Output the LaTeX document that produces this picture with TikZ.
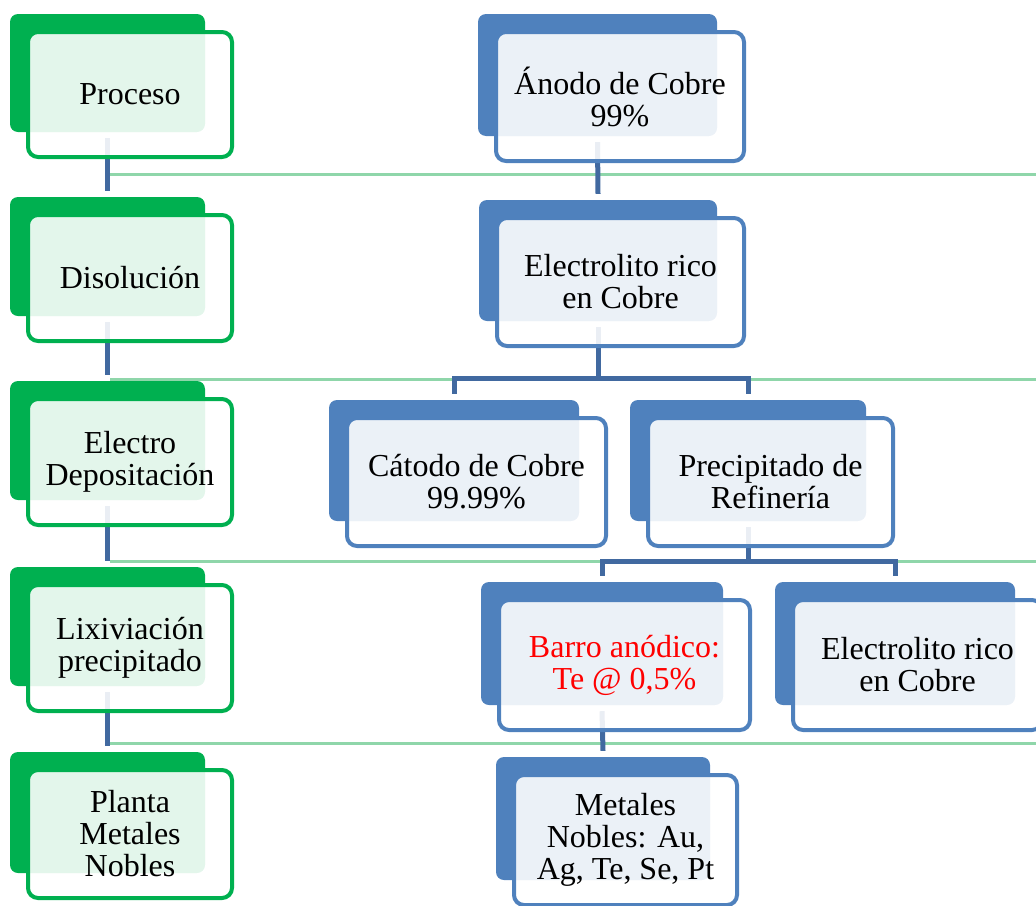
\documentclass[tikz,border=0pt]{standalone}
\usepackage{fontspec}
\setmainfont{Liberation Serif}
\definecolor{gD}{RGB}{0,176,80}
\definecolor{bD}{RGB}{79,129,189}
\definecolor{conn}{RGB}{65,105,160}
\definecolor{mint}{RGB}{143,214,170}
\pgfdeclarelayer{bg}
\pgfsetlayers{bg,main}
\tikzset{
  backbox/.style={rectangle,rounded corners=8pt,inner sep=0pt},
  frontbox/.style={rectangle,rounded corners=10pt,line width=4pt,fill=white,fill opacity=0.89,text opacity=1,
    inner sep=0pt,align=center,font=\fontsize{32}{32}\selectfont},
  conline/.style={draw=conn,line width=5pt},
  sepline/.style={draw=mint,line width=3pt}
}
\newcommand\unitbox[8][]{%
  \pgfmathsetmacro\uw{#5-#3}\pgfmathsetmacro\uh{#6-#4}%
  \pgfmathsetmacro\ucx{(#3+#5)/2}\pgfmathsetmacro\ucy{(#4+#6)/2}%
  \pgfmathsetmacro\fw{\uw+9}\pgfmathsetmacro\fh{\uh+7}%
  \pgfmathsetmacro\fcx{\ucx+22.5}\pgfmathsetmacro\fcy{\ucy+21.5}%
  \node[backbox,fill=#7,minimum width=\uw pt,minimum height=\uh pt] (#2) at (\ucx,\ucy) {};
  \node[frontbox,draw=#7,minimum width=\fw pt,minimum height=\fh pt,#1] (#2f) at (\fcx,\fcy) {#8};
}
\begin{document}
\begin{tikzpicture}[x=1pt,y=-1pt]
\useasboundingbox (0,0) rectangle (1036,905);
% left column
\unitbox{L1}{10}{14}{205}{132}{gD}{Proceso}
\unitbox{L2}{10}{197}{205}{316}{gD}{Disolución}
\unitbox{L3}{10}{381}{205}{500}{gD}{Electro\\Depositación}
\unitbox{L4}{10}{567}{205}{686}{gD}{Lixiviación\\precipitado}
\unitbox{L5}{10}{752}{205}{873}{gD}{Planta\\Metales\\Nobles}
% tree
\unitbox{A}{478}{14}{717}{136}{bD}{Ánodo de Cobre\\99\%}
\unitbox{B}{479}{200}{717}{321}{bD}{Electrolito rico\\en Cobre}
\unitbox{C}{329}{400}{579}{521}{bD}{Cátodo de Cobre\\99.99\%}
\unitbox{D}{630}{400}{866}{521}{bD}{Precipitado de\\Refinería}
\unitbox[text=red]{E}{481}{582}{723}{705}{bD}{Barro anódico:\\Te @ 0,5\%}
\unitbox{F}{775}{582}{1015}{705}{bD}{Electrolito rico\\en Cobre}
\unitbox{G}{496}{757}{710}{880}{bD}{Metales\\Nobles: Au,\\Ag, Te, Se, Pt}
\begin{pgfonlayer}{bg}
  \foreach \yy in {174,379,561,743} \draw[sepline] (110,\yy) -- (1036,\yy);
  \foreach \a/\b in {L1/L2,L2/L3,L3/L4,L4/L5,A/B,E/G}
    \draw[conline] ([yshift=-6pt]\a.south) -- ([yshift=6pt]\b.north);
  \draw[conline] ([yshift=-6pt]B.south) -- (B.south |- 0,378) -| ([yshift=6pt]C.north);
  \draw[conline] (B.south |- 0,378) -| ([yshift=6pt]D.north);
  \draw[conline] ([yshift=-6pt]D.south) -- (D.south |- 0,561) -| ([yshift=6pt]E.north);
  \draw[conline] (D.south |- 0,561) -| ([yshift=6pt]F.north);
\end{pgfonlayer}
\end{tikzpicture}
\end{document}
